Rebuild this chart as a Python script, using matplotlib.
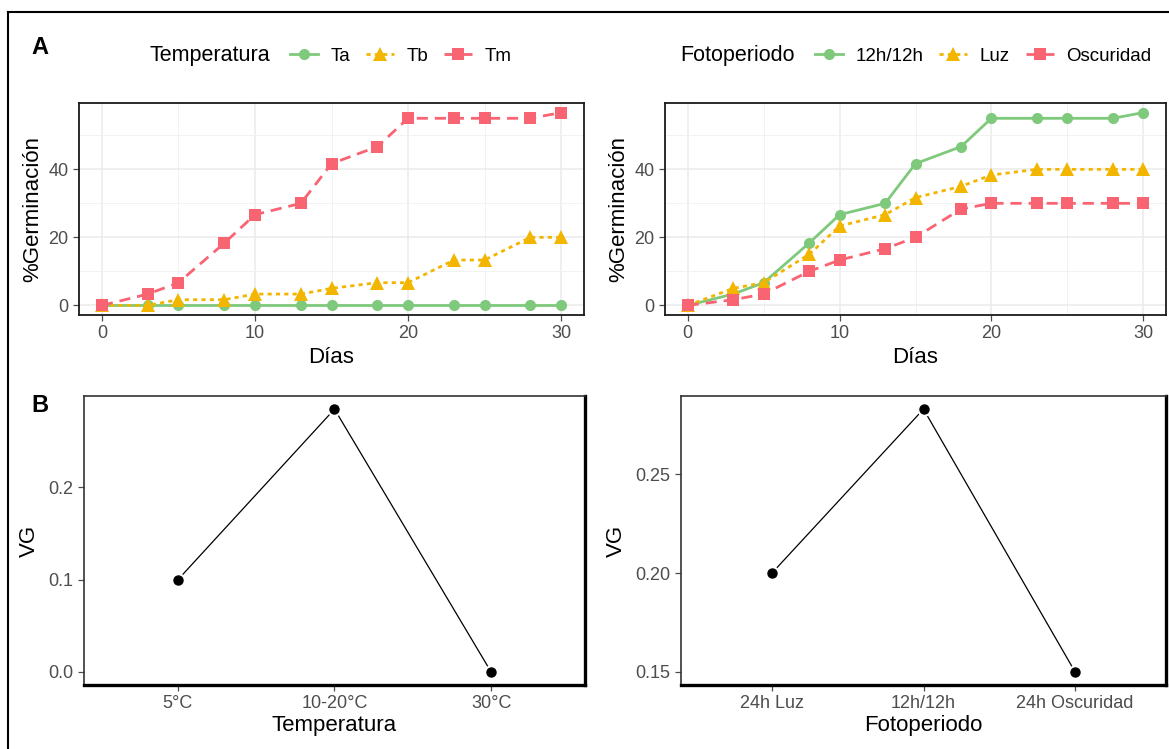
import matplotlib

matplotlib.use('Agg')
import matplotlib.pyplot as plt
from matplotlib.lines import Line2D
from matplotlib.ticker import MultipleLocator, FormatStrFormatter

plt.rcParams['font.family'] = ['Liberation Sans', 'DejaVu Sans']

# --- data ---
dias = [0, 3, 5, 8, 10, 13, 15, 18, 20, 23, 25, 28, 30]

temp_ta = [0, 0, 0, 0, 0, 0, 0, 0, 0, 0, 0, 0, 0]
temp_tb = [0, 0, 1.67, 1.67, 3.33, 3.33, 5, 6.67, 6.67, 13.33, 13.33, 20, 20]
temp_tm = [0, 3.33, 6.67, 18.33, 26.67, 30, 41.67, 46.67, 55, 55, 55, 55, 56.67]

foto_12h = [0, 3.33, 6.67, 18.33, 26.67, 30, 41.67, 46.67, 55, 55, 55, 55, 56.67]
foto_luz = [0, 5, 6.67, 15, 23.33, 26.67, 31.67, 35, 38.33, 40, 40, 40, 40]
foto_osc = [0, 1.67, 3.33, 10, 13.33, 16.67, 20, 28.33, 30, 30, 30, 30, 30]

temp_labels = ['Ta', 'Tb', 'Tm']
foto_labels = ['12h/12h', 'Luz', 'Oscuridad']

vg_temp_cats = ['5°C', '10-20°C', '30°C']
vg_temp = [0.10, 0.285, 0.0]
vg_foto_cats = ['24h Luz', '12h/12h', '24h Oscuridad']
vg_foto = [0.20, 0.283, 0.15]

W, H = 1169, 749
GREEN = '#7FC97C'
YELLOW = '#F2B600'
RED = '#F96473'
TICK_GREY = '#4D4D4D'
styles = [
    dict(color=GREEN, linestyle='-', marker='o', markersize=8),
    dict(color=YELLOW, linestyle=(0, (1.5, 1.5)), marker='^', markersize=10),
    dict(color=RED, linestyle=(0, (4, 2.5)), marker='s', markersize=9),
]


def px_axes(fig, x0, y0, x1, y1):
    return fig.add_axes([x0 / W, 1 - y1 / H, (x1 - x0) / W, (y1 - y0) / H])


def style_ticks(ax):
    ax.tick_params(axis='both', colors=TICK_GREY, labelsize=13,
                   length=4, width=0.9, labelcolor=TICK_GREY)


def germ_panel(ax, series):
    for ys, st in zip(series, styles):
        ax.plot(dias, ys, linewidth=2.0, markeredgewidth=0, **st)
    ax.set_xlim(-1.5, 31.5)
    ax.set_ylim(-2.83, 59.5)
    ax.xaxis.set_major_locator(MultipleLocator(10))
    ax.xaxis.set_minor_locator(MultipleLocator(5))
    ax.yaxis.set_major_locator(MultipleLocator(20))
    ax.yaxis.set_minor_locator(MultipleLocator(10))
    ax.grid(True, which='major', color='#EBEBEB', linewidth=1.1)
    ax.grid(True, which='minor', color='#F2F2F2', linewidth=0.7)
    ax.tick_params(which='minor', length=0)
    ax.set_axisbelow(True)
    for sp in ax.spines.values():
        sp.set_linewidth(1.3)
        sp.set_color('#1A1A1A')
    style_ticks(ax)
    ax.set_xlabel('Días', fontsize=16, labelpad=3)
    ax.set_ylabel('%Germinación', fontsize=16, labelpad=4)


def vg_panel(ax, cats, vals, xlabel):
    xs = list(range(len(cats)))
    ax.plot(xs, vals, color='black', linewidth=0.9, zorder=2)
    ax.plot(xs, vals, linestyle='none', marker='o', markersize=6.5,
            markerfacecolor='black', markeredgecolor='white',
            markeredgewidth=4, zorder=3)
    ax.plot(xs, vals, linestyle='none', marker='o', markersize=6.5,
            color='black', zorder=4)
    ax.set_xticks(xs)
    ax.set_xticklabels(cats)
    ax.set_xlim(-0.6, len(cats) - 0.4)
    lo, hi = min(vals), max(vals)
    pad = (hi - lo) * 0.05
    ax.set_ylim(lo - pad, hi + pad)
    for side in ['top', 'left']:
        ax.spines[side].set_linewidth(1.2)
        ax.spines[side].set_color('#333333')
    for side in ['right', 'bottom']:
        ax.spines[side].set_linewidth(2.4)
        ax.spines[side].set_color('black')
    style_ticks(ax)
    ax.set_xlabel(xlabel, fontsize=16, labelpad=2)
    ax.set_ylabel('VG', fontsize=16, labelpad=6)


fig = plt.figure(figsize=(W / 100, H / 100), dpi=100)

ax1 = px_axes(fig, 79, 103, 584, 315)
germ_panel(ax1, [temp_ta, temp_tb, temp_tm])
ax2 = px_axes(fig, 665, 103, 1166, 315)
germ_panel(ax2, [foto_12h, foto_luz, foto_osc])

ax3 = px_axes(fig, 84, 396, 585, 685)
vg_panel(ax3, vg_temp_cats, vg_temp, 'Temperatura')
ax3.yaxis.set_major_locator(MultipleLocator(0.1))
ax3.yaxis.set_major_formatter(FormatStrFormatter('%.1f'))
ax4 = px_axes(fig, 681, 396, 1166, 685)
vg_panel(ax4, vg_foto_cats, vg_foto, 'Fotoperiodo')
ax4.yaxis.set_major_locator(MultipleLocator(0.05))
ax4.yaxis.set_major_formatter(FormatStrFormatter('%.2f'))


def legend_handles():
    return [Line2D([], [], linewidth=2.0, markeredgewidth=0, **st)
            for st in styles]


for title, labels, tx, lx in [('Temperatura', temp_labels, 150, 290),
                              ('Fotoperiodo', foto_labels, 680, 815)]:
    fig.text(tx / W, 1 - 56 / H, title, fontsize=15.5, va='center', ha='left')
    fig.legend(legend_handles(), labels, loc='center left',
               bbox_to_anchor=(lx / W, 1 - 56 / H), ncol=3, frameon=False,
               fontsize=13.5, handlelength=1.5, handletextpad=0.65,
               columnspacing=0.85, borderaxespad=0, borderpad=0)

fig.text(40 / W, 1 - 48 / H, 'A', fontsize=17, fontweight='bold',
         ha='center', va='center')
fig.text(40 / W, 1 - 405 / H, 'B', fontsize=17, fontweight='bold',
         ha='center', va='center')

# outer frame (cropped at right and bottom)
fig.add_artist(Line2D([8 / W, 8 / W], [0, 1 - 12 / H], color='black',
                      linewidth=1.5, transform=fig.transFigure))
fig.add_artist(Line2D([8 / W, 1], [1 - 12 / H, 1 - 12 / H], color='black',
                      linewidth=1.5, transform=fig.transFigure))

fig.savefig('out.png', dpi=100)
